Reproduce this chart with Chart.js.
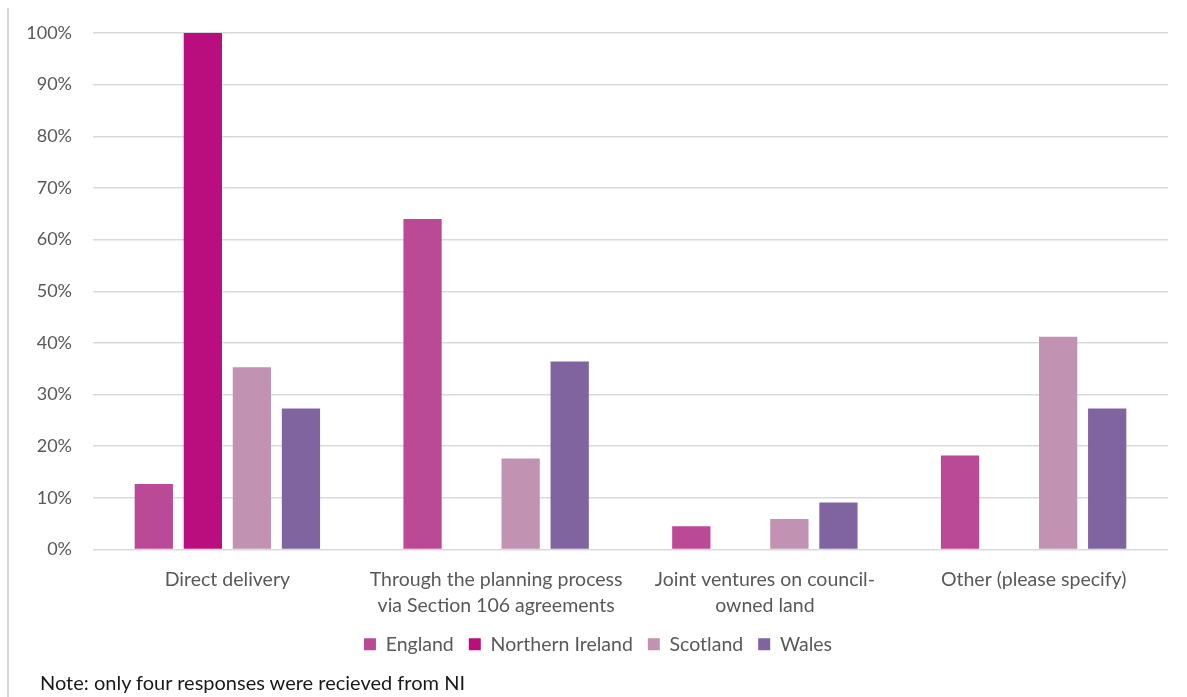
<!DOCTYPE html>
<html>
<head>
<meta charset="utf-8">
<title>Delivery routes by nation</title>
<script src="https://cdn.jsdelivr.net/npm/chart.js@4/dist/chart.umd.min.js"></script>
<style>
    html, body { margin: 0; padding: 0; background: #fff; }
    #wrap { position: relative; width: 1187px; height: 697px; overflow: hidden; }
    #frameLine { position: absolute; left: 7px; top: 8px; bottom: 0; width: 2px; background: #d9d9d9; }
    #note { position: absolute; left: 40px; top: 670px; font-family: Lato, "Noto Sans", sans-serif; font-size: 20px; color: #1a1a1a; }
</style>
</head>
<body>
<div id="wrap">
    <canvas id="mainChart" width="1187" height="697"></canvas>
    <div id="frameLine"></div>
    <div id="note">Note: only four responses were recieved from NI</div>
</div>
<script>
var categories = [
    "Direct delivery",
    ["Through the planning process", "via Section 106 agreements"],
    ["Joint ventures on council-", "owned land"],
    "Other (please specify)"
];
var england = [12.7, 64.0, 4.5, 18.2];
var northernIreland = [100, 0, 0, 0];
var scotland = [35.3, 17.6, 5.9, 41.2];
var wales = [27.3, 36.4, 9.1, 27.3];
var yTicks = [0, 10, 20, 30, 40, 50, 60, 70, 80, 90, 100];

window.addEventListener("load", function (event) {
    Chart.defaults.font.family = "Lato, 'Noto Sans', sans-serif";
    Chart.defaults.font.size = 19.5;
    Chart.defaults.color = "#595959";

    var makeSet = function (label, values, color) {
        return {
            label: label,
            data: values,
            backgroundColor: color,
            borderWidth: 0,
            categoryPercentage: 0.73,
            barPercentage: 0.78
        };
    };

    var ctx = document.getElementById("mainChart");
    var chart = new Chart(ctx, {
        type: 'bar',
        data: {
            labels: categories,
            datasets: [
                makeSet('England', england, '#bb4a96'),
                makeSet('Northern Ireland', northernIreland, '#b90e7d'),
                makeSet('Scotland', scotland, '#c292b2'),
                makeSet('Wales', wales, '#8064a0')
            ]
        },
        options: {
            responsive: false,
            animation: false,
            layout: {
                padding: { left: 28, right: 19, top: 33, bottom: 33 }
            },
            scales: {
                x: {
                    grid: { display: false, drawTicks: false },
                    border: { display: false },
                    ticks: {
                        padding: 17,
                        maxRotation: 0,
                        autoSkip: false,
                        font: { lineHeight: 1.33 }
                    },
                    // keep the plot bottom on the 0% line of the original
                    afterFit: function (axis) {
                        axis.height = 70;
                    }
                },
                y: {
                    min: 0,
                    max: 100,
                    afterBuildTicks: function (axis) {
                        axis.ticks = yTicks.map(v => ({ value: v }));
                    },
                    afterFit: function (axis) {
                        axis.width = 65;
                    },
                    grid: { color: '#d9d9d9', lineWidth: 1.5, drawTicks: false },
                    border: { display: false },
                    ticks: {
                        padding: 21,
                        font: { size: 18 },
                        callback: function (value) {
                            return value + '%';
                        }
                    }
                }
            },
            plugins: {
                legend: {
                    position: 'bottom',
                    labels: {
                        boxWidth: 12,
                        boxHeight: 12,
                        padding: 15
                    }
                },
                tooltip: { enabled: false }
            }
        }
    });
}, false);
</script>
</body>
</html>
